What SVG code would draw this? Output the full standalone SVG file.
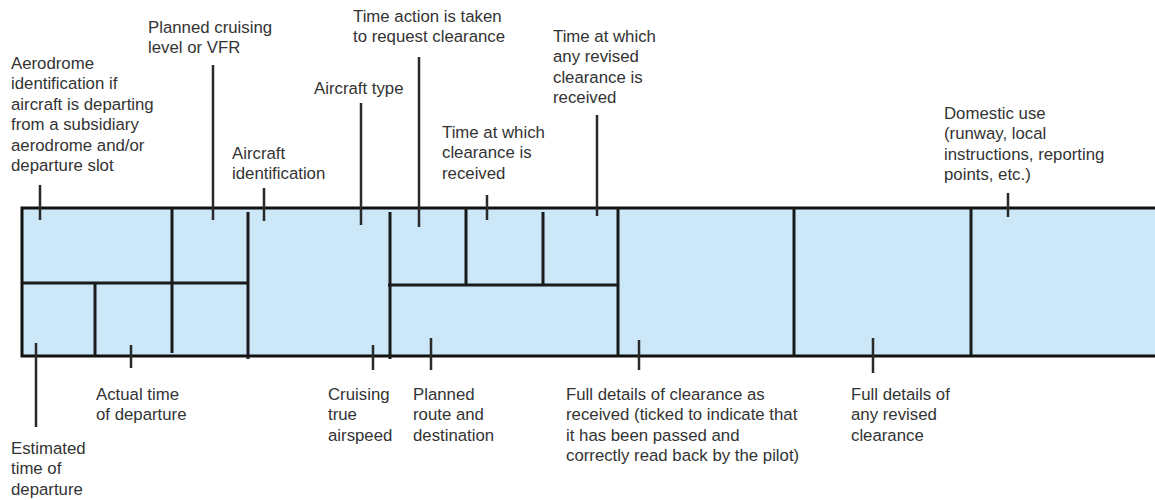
<svg xmlns="http://www.w3.org/2000/svg" width="1155" height="500" viewBox="0 0 1155 500">
<style>
.t{font-family:"Liberation Sans",Arial,sans-serif;font-size:16.8px;fill:#333}
.b{fill:#cbe7f8;stroke:#111;stroke-width:3}
.d{stroke:#1a1a1a;stroke-width:3;fill:none}
.k{stroke:#2a2a2a;stroke-width:2.5;fill:none}
</style>
<rect width="1155" height="500" fill="#fff"/>
<g id="strip">
<rect class="b" x="22" y="208" width="1140" height="148"/>
<path class="d" d="M22 283H248M172 208V353M95 283V356M248 212V359M390 212V359M388 285H618M466 208V285M543 212V285M618 208V356M794 208V356M971 208V356"/>
</g>
<g id="connectors">
<path class="k" d="M40 185V220M213 65V220M264 188V221M361 103V225M419 57V227M487 195V220M597 115V216M1008 193V217"/>
<path class="k" d="M36 343V427M131 345V368M373 345V370M431 338V370M639 340V370M873 338V373"/>
</g>
<g id="label-aerodrome"><text class="t" x="11" y="69">Aerodrome<tspan x="11" dy="20.4">identification if</tspan><tspan x="11" dy="20.4">aircraft is departing</tspan><tspan x="11" dy="20.4">from a subsidiary</tspan><tspan x="11" dy="20.4">aerodrome and/or</tspan><tspan x="11" dy="20.4">departure slot</tspan></text></g>
<g id="label-cruising-level"><text class="t" x="148" y="33">Planned cruising<tspan x="148" dy="20.4">level or VFR</tspan></text></g>
<g id="label-aircraft-id"><text class="t" x="232" y="159">Aircraft<tspan x="232" dy="20.4">identification</tspan></text></g>
<g id="label-aircraft-type"><text class="t" x="314" y="94">Aircraft type</text></g>
<g id="label-time-action"><text class="t" x="353" y="22">Time action is taken<tspan x="353" dy="20.4">to request clearance</tspan></text></g>
<g id="label-time-clearance"><text class="t" x="442" y="138">Time at which<tspan x="442" dy="20.4">clearance is</tspan><tspan x="442" dy="20.4">received</tspan></text></g>
<g id="label-time-revised"><text class="t" x="553" y="42">Time at which<tspan x="553" dy="20.4">any revised</tspan><tspan x="553" dy="20.4">clearance is</tspan><tspan x="553" dy="20.4">received</tspan></text></g>
<g id="label-domestic"><text class="t" x="944" y="119">Domestic use<tspan x="944" dy="20.4">(runway, local</tspan><tspan x="944" dy="20.4">instructions, reporting</tspan><tspan x="944" dy="20.4">points, etc.)</tspan></text></g>
<g id="label-estimated"><text class="t" x="11" y="454">Estimated<tspan x="11" dy="20.4">time of</tspan><tspan x="11" dy="20.4">departure</tspan></text></g>
<g id="label-actual"><text class="t" x="96" y="400">Actual time<tspan x="96" dy="20.4">of departure</tspan></text></g>
<g id="label-airspeed"><text class="t" x="328" y="400">Cruising<tspan x="328" dy="20.4">true</tspan><tspan x="328" dy="20.4">airspeed</tspan></text></g>
<g id="label-route"><text class="t" x="413" y="400">Planned<tspan x="413" dy="20.4">route and</tspan><tspan x="413" dy="20.4">destination</tspan></text></g>
<g id="label-full-details"><text class="t" x="566" y="400">Full details of clearance as<tspan x="566" dy="20.4">received (ticked to indicate that</tspan><tspan x="566" dy="20.4">it has been passed and</tspan><tspan x="566" dy="20.4">correctly read back by the pilot)</tspan></text></g>
<g id="label-revised"><text class="t" x="851" y="400">Full details of<tspan x="851" dy="20.4">any revised</tspan><tspan x="851" dy="20.4">clearance</tspan></text></g>
</svg>
